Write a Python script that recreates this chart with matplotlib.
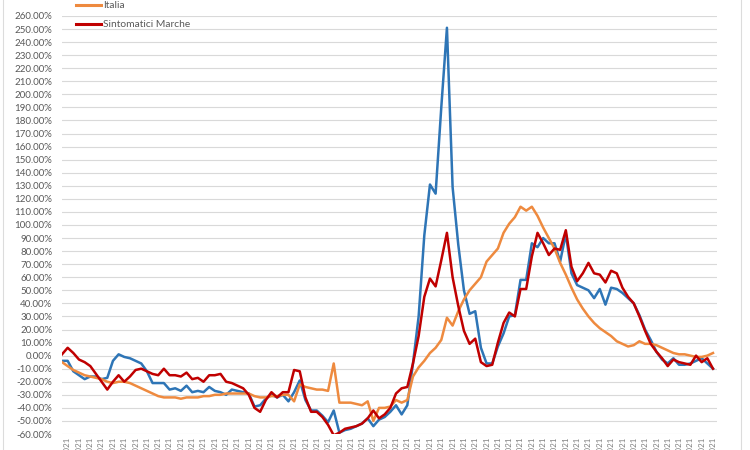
import numpy as np
import pandas as pd
import matplotlib
matplotlib.use("Agg")
import matplotlib.pyplot as plt
from matplotlib.lines import Line2D

# variazioni percentuali
marche = [-4, -4, -12, -15, -18, -16, -16, -18, -17, -4,
          1, -1, -2, -4, -6, -12, -21, -21, -21, -26,
          -25, -27, -23, -28, -27, -28, -24, -27, -28, -30,
          -26, -27, -28, -29, -39, -38, -33, -30, -32, -30,
          -35, -28, -19, -34, -42, -42, -46, -51, -42, -59,
          -57, -56, -54, -52, -48, -54, -49, -47, -43, -38,
          -45, -38, -6, 30, 92, 131, 124, 190, 251, 129,
          85, 50, 32, 34, 6, -6, -6, 7, 17, 30,
          31, 58, 58, 86, 83, 90, 86, 86, 72, 93,
          63, 54, 52, 50, 44, 51, 39, 52, 51, 48,
          44, 40, 31, 20, 12, 3, -3, -6, -2, -7,
          -7, -6, -4, -2, -6, -10]

italia = [-5, -8, -11, -13, -15, -16, -17, -18, -20, -21,
          -20, -20, -21, -23, -25, -27, -29, -31, -32, -32,
          -32, -33, -32, -32, -32, -31, -31, -30, -30, -29,
          -29, -29, -29, -29, -31, -32, -32, -31, -31, -30,
          -30, -35, -22, -24, -25, -26, -26, -27, -6, -36,
          -36, -36, -37, -38, -35, -50, -40, -40, -39, -34,
          -36, -34, -16, -9, -4, 2, 6, 12, 29, 23,
          34, 43, 50, 55, 60, 72, 77, 82, 94, 101,
          106, 114, 111, 114, 107, 98, 90, 82, 71, 62,
          52, 43, 36, 30, 25, 21, 18, 15, 11, 9,
          7, 8, 11, 9, 9, 8, 6, 4, 2, 1,
          1, 0, -1, -1, 0, 2]

sintomatici = [1, 6, 2, -3, -5, -8, -14, -20, -26, -20,
               -15, -20, -16, -11, -10, -12, -14, -15, -10, -15,
               -15, -16, -13, -18, -17, -20, -15, -15, -14, -20,
               -21, -23, -25, -30, -40, -43, -34, -28, -32, -28,
               -28, -11, -12, -32, -43, -43, -47, -53, -61, -59,
               -56, -55, -54, -52, -48, -42, -48, -45, -40, -29,
               -25, -24, -6, 15, 45, 59, 53, 73, 94, 60,
               38, 19, 9, 13, -5, -8, -7, 10, 25, 33,
               30, 51, 51, 76, 94, 86, 77, 82, 81, 96,
               68, 57, 63, 71, 63, 62, 56, 65, 63, 52,
               45, 40, 30, 19, 9, 3, -2, -8, -3, -5,
               -6, -7, 0, -5, -2, -10]

date = pd.date_range("2021-01-01", periods=len(marche), freq="D")
date_labels = [d.strftime("%d/%m/%Y") for d in date]

y_ticks = np.arange(-60, 261, 10)

plt.rcParams['font.family'] = ['Lato', 'DejaVu Sans']
grigio = '#595959'

fig = plt.figure(figsize=(7.5, 4.5), dpi=100)
ax = fig.add_axes([62 / 750, 16 / 450, 655 / 750, 418 / 450])

x = np.arange(len(marche))
ax.plot(x, marche, color='#2e75b6', lw=1.8, solid_joinstyle='round')
ax.plot(x, italia, color='#ee8a3f', lw=1.8, solid_joinstyle='round', label='Italia')
ax.plot(x, sintomatici, color='#c00000', lw=1.8, solid_joinstyle='round',
        label='Sintomatici Marche')

ax.set_xlim(0, len(x) - 1 + 4 / 5.661)
ax.set_ylim(-60, 260)
ax.set_yticks(y_ticks)
ax.set_yticklabels([f"{v:.2f}%" for v in y_ticks])
ax.set_xticks(x[1::2])
ax.set_xticklabels(date_labels[1::2], rotation=90)
ax.tick_params(axis='y', length=0, pad=7, labelsize=7, labelcolor=grigio)
ax.tick_params(axis='x', length=0, pad=2, labelsize=5.8, labelcolor='#7f7f7f')
for sp in ax.spines.values():
    sp.set_visible(False)
ax.grid(axis='y', color='#d9d9d9', lw=0.8)
ax.set_axisbelow(True)

handles = [Line2D([], [], color='#ee8a3f', lw=2.2),
           Line2D([], [], color='#c00000', lw=2.2)]
fig.legend(handles, ['Italia', 'Sintomatici Marche'], loc='upper left',
           bbox_to_anchor=(76 / 750, 1 - 1 / 450), frameon=False, fontsize=7.4,
           labelcolor=grigio, handlelength=2.4, handletextpad=0.2,
           labelspacing=0.95, borderpad=0, borderaxespad=0)

# bordi delle celle del foglio intorno al grafico
fig.add_artist(Line2D([3 / 750, 3 / 750], [0, 1], color='#dcdcdc', lw=0.8))
fig.add_artist(Line2D([741 / 750, 741 / 750], [0, 1], color='#dcdcdc', lw=0.8))

fig.savefig('out.png', dpi=100)
